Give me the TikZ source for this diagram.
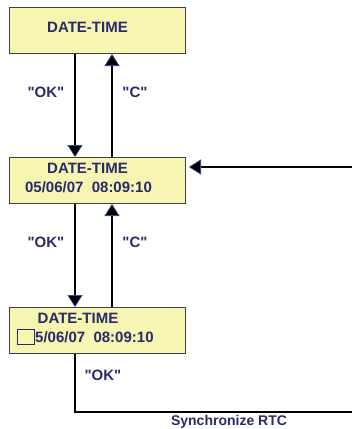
\documentclass[tikz,border=0pt]{standalone}
\usepackage{fontspec}
\setmainfont{Liberation Sans}
\usetikzlibrary{arrows.meta}
\definecolor{boxfill}{RGB}{246,245,178}
\definecolor{navy}{RGB}{40,42,105}
\definecolor{tipblue}{RGB}{40,70,160}
\begin{document}
\begin{tikzpicture}[
  x=1pt, y=1pt,
  screen/.style={draw=black!75, line width=1pt, fill=boxfill, anchor=north west,
    minimum width=176pt, minimum height=46pt, inner sep=0pt},
  txt/.style={text=navy, font=\fontsize{15}{17}\selectfont\bfseries, inner sep=0pt},
  arr/.style={line width=1.3pt, -{Triangle[width=15pt,length=12pt,color=tipblue,fill=black,line width=0.6pt]}}
]
\useasboundingbox (0,0) rectangle (352,-429);

% screens
\node[screen] (date1) at (9,-7) {};
\node[screen] (date2) at (9,-157) {};
\node[screen] (date3) at (9,-307) {};

\node[txt] (t1) at (87.5,-27) {DATE-TIME};
\node[txt] (t2) at (87.5,-168) {DATE-TIME};
\node[txt] (d2) at (88.5,-187) {05/06/07\ \ 08:09:10};
\node[txt] (t3) at (78,-318) {DATE-TIME};
\node[txt, anchor=west] (d3) at (35,-337) {5/06/07\ \ 08:09:10};
\node[draw=navy, line width=0.8pt, minimum width=17pt, minimum height=15pt, inner sep=0pt, anchor=east] (cur) at (d3.west) {};

% keys
\coordinate (okx) at (75,0);
\coordinate (cx) at (112,0);
\draw[arr] (date1.south -| okx) -- (date2.north -| okx);
\draw[arr] (date2.north -| cx) -- (date1.south -| cx);
\draw[arr] (date2.south -| okx) -- (date3.north -| okx);
\draw[arr] (date3.north -| cx) -- (date2.south -| cx);

\node[txt] (ok1) at (46,-92) {\textquotedbl OK\textquotedbl};
\node[txt] (c1) at (135,-92) {\textquotedbl C\textquotedbl};
\node[txt] (ok2) at (46,-242) {\textquotedbl OK\textquotedbl};
\node[txt] (c2) at (135,-242) {\textquotedbl C\textquotedbl};
\node[txt] (ok3) at (103,-375) {\textquotedbl OK\textquotedbl};

% back to screen 2
\coordinate (low) at (0,-412);
\coordinate (edge) at (353.5,-167);
\draw[arr, shorten >=3pt] (date3.south -| okx) -- (low -| okx) -- (low -| edge) -- (edge) -- (date2.east |- edge);
\node[txt, font=\fontsize{14}{16}\selectfont\bfseries] (sync) at (229,-422) {Synchronize RTC};
\end{tikzpicture}
\end{document}
